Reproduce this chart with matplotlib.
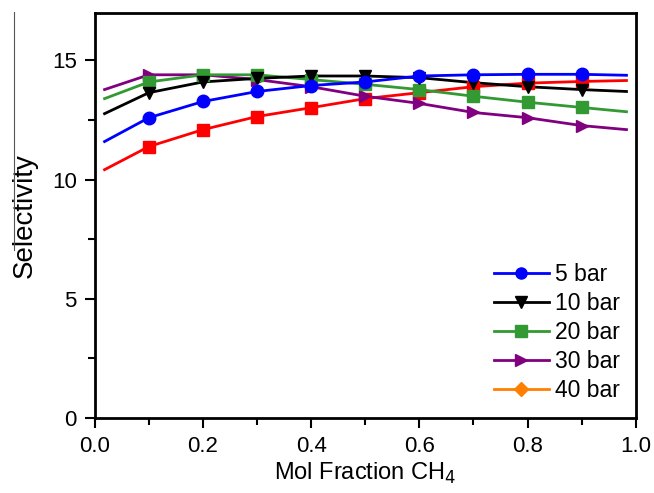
import matplotlib
matplotlib.use("Agg")
import matplotlib.pyplot as plt
from matplotlib.lines import Line2D

plt.rcParams["font.family"] = ["Liberation Sans", "DejaVu Sans"]

# curve ends + marker positions (mol fraction CH4)
x_line = [0.018, 0.1, 0.2, 0.3, 0.4, 0.5, 0.6, 0.7, 0.8, 0.9, 0.983]
x_mark = [0.1, 0.2, 0.3, 0.4, 0.5, 0.6, 0.7, 0.8, 0.9]

sel_5 = [11.6, 12.6, 13.28, 13.7, 13.95, 14.1, 14.35, 14.4, 14.42, 14.42, 14.38]
sel_10 = [12.77, 13.65, 14.1, 14.25, 14.35, 14.35, 14.28, 14.07, 13.9, 13.78, 13.7]
sel_20 = [13.4, 14.1, 14.4, 14.4, 14.2, 14.0, 13.78, 13.5, 13.25, 13.03, 12.85]
sel_30 = [13.78, 14.4, 14.4, 14.2, 13.9, 13.5, 13.2, 12.82, 12.6, 12.27, 12.1]
sel_40 = [10.42, 11.39, 12.1, 12.65, 13.02, 13.4, 13.65, 13.9, 14.05, 14.12, 14.16]

series = [
    ("5 bar", sel_5, "#0000ff", "o"),
    ("10 bar", sel_10, "#000000", "v"),
    ("20 bar", sel_20, "#339933", "s"),
    ("30 bar", sel_30, "#800080", ">"),
    ("40 bar", sel_40, "#ff0000", "s"),
]
# the legend in the source shows 40 bar as an orange diamond
legend_style = {
    "5 bar": ("#0000ff", "o"),
    "10 bar": ("#000000", "v"),
    "20 bar": ("#339933", "s"),
    "30 bar": ("#800080", ">"),
    "40 bar": ("#ff8000", "D"),
}

fig = plt.figure(figsize=(6.54, 4.93), dpi=100)
ax = fig.add_axes([0.145, 0.152, 0.827, 0.822])

# draw 40 bar first so others lie on top
for name, ys, color, mk in reversed(series):
    ax.plot(x_line, ys, color=color, lw=2, zorder=2)
    ax.plot(x_mark, ys[1:-1], ls="none", marker=mk, ms=9, color=color, zorder=3)

handles = []
for name, _, _, _ in series:
    c, m = legend_style[name]
    handles.append(Line2D([], [], color=c, lw=2, marker=m,
                          ms=7 if m == "D" else 8, label=name))
ax.legend(handles=handles, loc="lower right", frameon=False, fontsize=16.5,
          handlelength=2.4, handletextpad=0.25, labelspacing=0.26,
          borderaxespad=0.3)

ax.set_xlim(0, 1.0)
ax.set_ylim(0, 17)
ax.set_xticks([0.0, 0.2, 0.4, 0.6, 0.8, 1.0])
ax.set_xticks([0.1, 0.3, 0.5, 0.7, 0.9], minor=True)
ax.set_yticks([0, 5, 10, 15])
ax.set_yticks([2.5, 7.5, 12.5], minor=True)
ax.tick_params(which="major", direction="out", length=7, width=1.5,
               labelsize=16, pad=6, colors="black")
ax.tick_params(which="minor", direction="out", length=5, width=1.5)
for s in ax.spines.values():
    s.set_linewidth(2)

ax.set_xlabel("Mol Fraction CH$_4$", fontsize=17, labelpad=3)
ax.set_ylabel("Selectivity", fontsize=20, labelpad=10)

# stray thin line left of the y label in the source image
fig.add_artist(Line2D([14 / 654, 14 / 654], [1 - 12 / 493, 1 - 250 / 493],
                      color="#555555", lw=0.8))

fig.savefig("out.png", dpi=100)
